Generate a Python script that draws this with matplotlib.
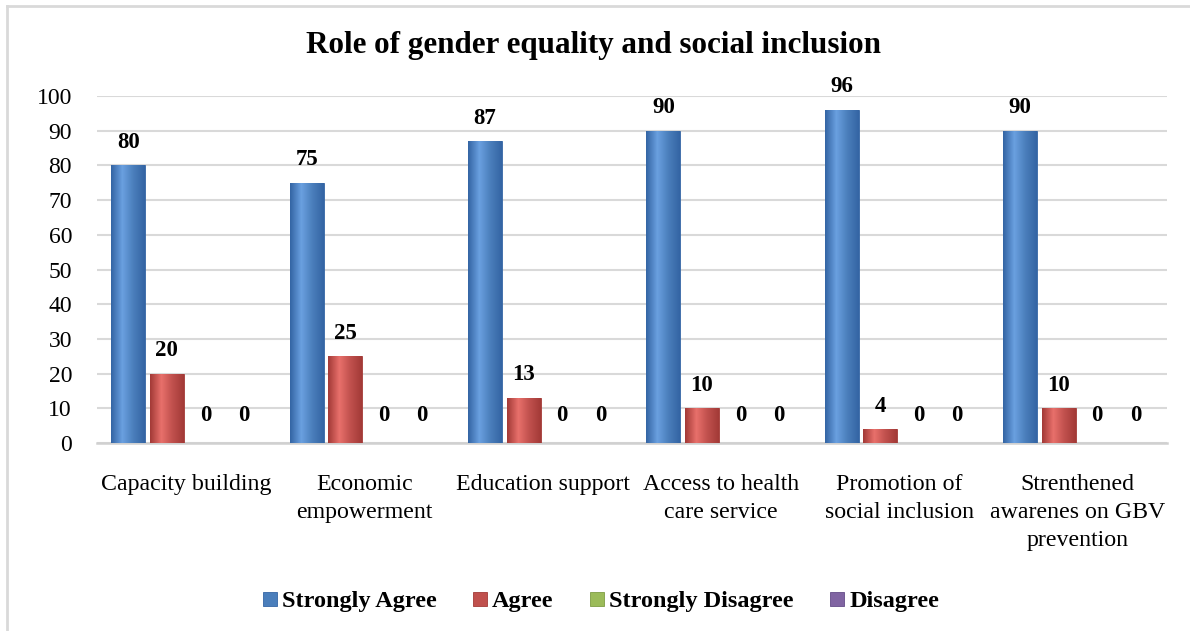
import numpy as np
import matplotlib.pyplot as plt
from matplotlib.colors import LinearSegmentedColormap

plt.rcParams['font.family'] = ['Liberation Serif', 'DejaVu Serif']

categories = [
    "Capacity building",
    "Economic\nempowerment",
    "Education support",
    "Access to health\ncare service",
    "Promotion of\nsocial inclusion",
    "Strenthened\nawarenes on GBV\nprevention",
]
series_names = ["Strongly Agree", "Agree", "Strongly Disagree", "Disagree"]
strongly_agree = [80, 75, 87, 90, 96, 90]
agree = [20, 25, 13, 10, 4, 10]
strongly_disagree = [0, 0, 0, 0, 0, 0]
disagree = [0, 0, 0, 0, 0, 0]
yticks = list(range(0, 101, 10))

series = [strongly_agree, agree, strongly_disagree, disagree]
colors = ["#4A7EBB", "#C0504D", "#9BBB59", "#8064A2"]
# edge / centre shades for the bevelled look
shades = [
    ("#3465A4", "#6AA0E0"),
    ("#A33A37", "#E8706B"),
    ("#7E9C44", "#B5D47A"),
    ("#644C88", "#9E84C2"),
]

fig = plt.figure(figsize=(11.9, 6.31), dpi=100)
ax = fig.add_axes([97 / 1190, 1 - 443 / 631, (1167 - 97) / 1190, (443 - 96) / 631])

x = np.arange(len(categories))
step = 0.216
width = 0.19

handles = []
for j, (vals, name) in enumerate(zip(series, series_names)):
    pos = x + (j - 1.5) * step
    bars = ax.bar(pos, vals, width, color=colors[j], edgecolor=shades[j][0],
                  linewidth=0.6, label=name, zorder=3)
    handles.append(bars)
    cmap = LinearSegmentedColormap.from_list(
        "g%d" % j, [shades[j][0], shades[j][1], colors[j], shades[j][0]])
    grad = np.linspace(0, 1, 64).reshape(1, -1)
    for b, v in zip(bars, vals):
        bx = b.get_x() + b.get_width() / 2
        if v > 0:
            im = ax.imshow(grad, cmap=cmap, aspect="auto", zorder=3.5,
                           extent=[b.get_x(), b.get_x() + b.get_width(), 0, v])
            im.set_clip_path(b)
            off = 9
        else:
            off = 12
        ax.annotate(str(v), (bx, v), xytext=(0, off),
                    textcoords="offset points", ha="center", va="bottom",
                    fontsize=16.5, fontweight="bold", zorder=5)

ax.set_xlim(-0.5, len(categories) - 0.5)
ax.set_ylim(0, 100)
ax.set_yticks(yticks)
ax.set_xticks(x)
ax.set_xticklabels(categories, fontsize=17.2, linespacing=1.45)
ax.tick_params(axis="y", length=0, pad=18, labelsize=17)
ax.tick_params(axis="x", length=0, pad=22)
ax.grid(axis="y", color="#D9D9D9", linewidth=1.5, zorder=0)
ax.set_axisbelow(True)
for s in ["top", "right", "left"]:
    ax.spines[s].set_visible(False)
ax.spines["bottom"].set_color("#D0D0D0")
ax.spines["bottom"].set_linewidth(1.8)

fig.text(593 / 1190, 1 - 46 / 631, "Role of gender equality and social inclusion",
         ha="center", va="center", fontsize=22.4, fontweight="bold")

leg = fig.legend(handles=handles, labels=series_names, loc="center",
                 bbox_to_anchor=(601 / 1190, 1 - 602 / 631), ncol=4,
                 frameon=False, prop={"weight": "bold", "size": 17.5},
                 handlelength=0.58, handleheight=0.55, handletextpad=0.2,
                 columnspacing=1.5)

# outer chart border (only top and left visible in the crop)
fig.add_artist(plt.Line2D([7 / 1190, 1.0], [1 - 6 / 631, 1 - 6 / 631],
                          transform=fig.transFigure, color="#D9D9D9", lw=2))
fig.add_artist(plt.Line2D([7 / 1190, 7 / 1190], [0, 1 - 6 / 631],
                          transform=fig.transFigure, color="#D9D9D9", lw=2))

fig.savefig("out.png", dpi=100)
